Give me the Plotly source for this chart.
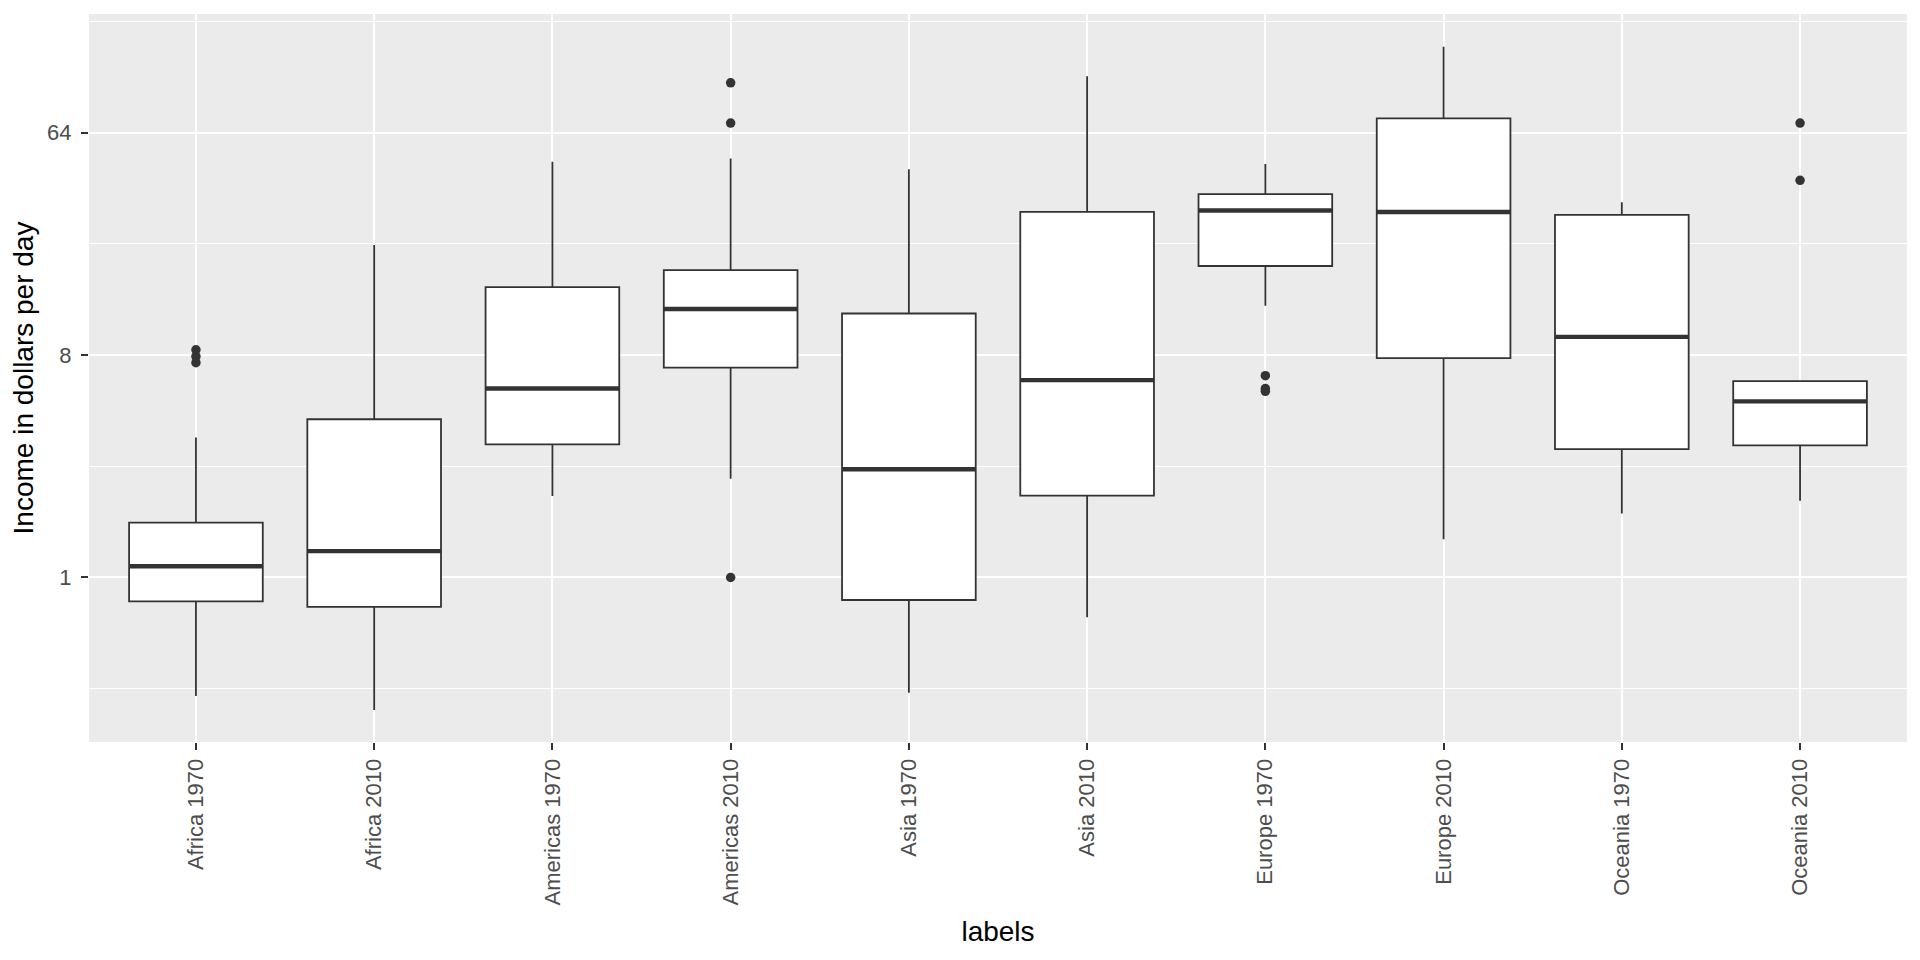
import plotly.graph_objects as go

# ---- data ----
categories = ["Africa 1970", "Africa 2010", "Americas 1970", "Americas 2010",
              "Asia 1970", "Asia 2010", "Europe 1970", "Europe 2010",
              "Oceania 1970", "Oceania 2010"]
lower_whisker = [0.33, 0.29, 2.14, 2.52, 0.34, 0.69, 12.7, 1.43, 1.82, 2.05]
q1_values     = [0.80, 0.76, 3.47, 7.12, 0.81, 2.15, 18.4, 7.78, 3.32, 3.44]
median_values = [1.11, 1.28, 5.85, 12.3, 2.75, 6.33, 30.9, 30.5, 9.48, 5.19]
q3_values     = [1.67, 4.39, 15.1, 17.7, 11.8, 30.5, 36.0, 73.1, 29.7, 6.27]
upper_whisker = [3.70, 22.4, 48.8, 50.3, 45.5, 108.5, 47.7, 143.0, 33.4, 6.27]

outlier_category = ["Africa 1970", "Africa 1970", "Africa 1970",
                    "Americas 2010", "Americas 2010", "Americas 2010",
                    "Europe 1970", "Europe 1970", "Europe 1970",
                    "Oceania 2010", "Oceania 2010"]
outlier_values = [8.4, 7.9, 7.45,
                  102.0, 70.0, 1.0,
                  6.6, 5.85, 5.7,
                  70.0, 41.0]

y_tick_values = [1, 8, 64]
y_tick_labels = ["1", "8", "64"]
y_minor_values = [2 ** -1.5, 2 ** 1.5, 2 ** 4.5, 2 ** 7.5]

# ---- styling ----
FONT = "Liberation Sans, Arial, sans-serif"
DARK = "#333333"
BOX_WIDTH = 0.75

positions = list(range(len(categories)))
pos_of = {c: i for i, c in enumerate(categories)}

fig = go.Figure()

fig.add_trace(go.Box(
    x=positions,
    q1=q1_values, median=median_values, q3=q3_values,
    lowerfence=lower_whisker, upperfence=upper_whisker,
    boxpoints=False,
    fillcolor="white",
    line=dict(color=DARK, width=1.8),
    whiskerwidth=0,
    width=BOX_WIDTH,
    showlegend=False,
    hoverinfo="skip",
))

# thick median bars (ggplot style)
mx, my = [], []
for i, m in zip(positions, median_values):
    mx += [i - BOX_WIDTH / 2, i + BOX_WIDTH / 2, None]
    my += [m, m, None]
fig.add_trace(go.Scatter(
    x=mx, y=my, mode="lines",
    line=dict(color=DARK, width=4.4),
    showlegend=False, hoverinfo="skip",
))

# outliers
fig.add_trace(go.Scatter(
    x=[pos_of[c] for c in outlier_category], y=outlier_values,
    mode="markers",
    marker=dict(color=DARK, size=9.5, line=dict(width=0)),
    showlegend=False, hoverinfo="skip",
))

fig.update_layout(
    width=1920, height=960,
    paper_bgcolor="white",
    plot_bgcolor="#EBEBEB",
    margin=dict(l=81, r=21, t=6, b=226),
    font=dict(family=FONT, color="#4D4D4D"),
    showlegend=False,
)

fig.update_xaxes(
    range=[-0.6, 9.6],
    tickmode="array", tickvals=positions, ticktext=categories,
    tickangle=-90,
    tickfont=dict(family=FONT, size=22, color="#4D4D4D"),
    ticks="outside", ticklen=7, tickwidth=1.6, tickcolor=DARK,
    showgrid=True, gridcolor="white", gridwidth=2.2,
    zeroline=False, showline=False,
    title=dict(text="labels", font=dict(family=FONT, size=28, color="black"), standoff=16),
    automargin=False,
)

fig.update_yaxes(
    type="log",
    range=[-0.668, 2.288],
    tickmode="array", tickvals=y_tick_values, ticktext=y_tick_labels,
    tickfont=dict(family=FONT, size=22, color="#4D4D4D"),
    ticks="outside", ticklen=7, tickwidth=1.6, tickcolor=DARK,
    ticklabelstandoff=5,
    showgrid=True, gridcolor="white", gridwidth=2.2,
    minor=dict(tickmode="array", tickvals=y_minor_values, showgrid=True,
               gridcolor="white", gridwidth=1.1, ticks=""),
    zeroline=False, showline=False,
    title=dict(text="Income in dollars per day", font=dict(family=FONT, size=28, color="black"), standoff=8),
    automargin=False,
)

fig.write_html("out.html")
